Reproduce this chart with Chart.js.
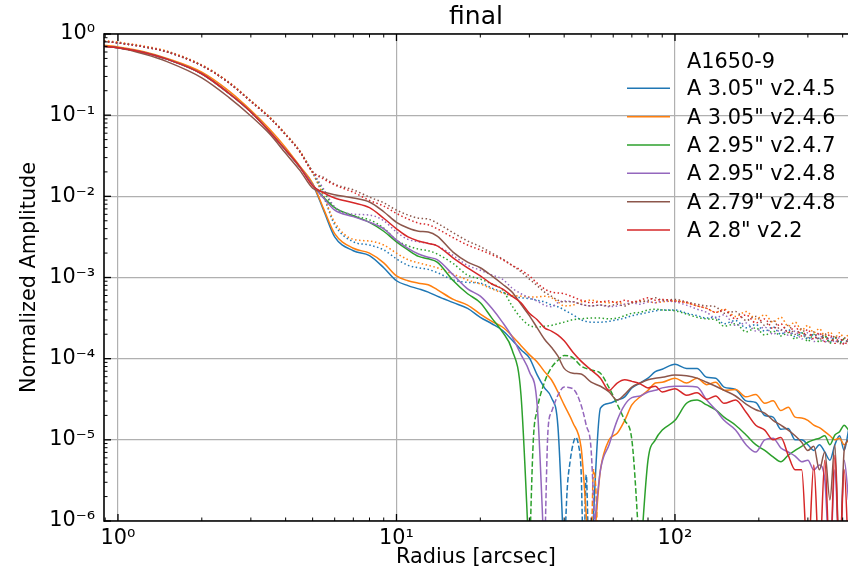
<!DOCTYPE html>
<html>
<head>
<meta charset="utf-8">
<script src="https://cdn.jsdelivr.net/npm/chart.js@4.4.1/dist/chart.umd.min.js"></script>
<style>
  html, body { margin: 0; padding: 0; background: #fff; }
</style>
</head>
<body>
<canvas id="c" width="848" height="573"></canvas>
<script>
// radius [arcsec] shared by the solid and dotted profiles
const radii = [0.89, 1, 1.25, 1.5, 2, 2.5, 3, 3.5, 4, 4.5,
  5, 5.5, 6, 7, 8, 9, 10, 11, 12, 13,
  14, 16, 18, 20, 22, 24, 26, 28, 30, 32,
  34, 36, 38, 40, 43, 46, 50, 54, 58, 62,
  66, 70, 75, 80, 85, 90, 100, 110, 120, 130,
  140, 150, 165, 180, 195, 210, 225, 240, 255, 270,
  285, 300, 315, 330, 345, 360, 375, 390, 405, 420];

// values below are log10 of the normalized amplitude
// (-6.5 = the curve drops out below the axis, null = no solid line there)
const blueSolid = [-0.15, -0.17, -0.23, -0.31, -0.49, -0.73, -0.96, -1.20, -1.43, -1.64,
  -1.85, -2.19, -2.50, -2.67, -2.73, -2.88, -3.04, -3.10, -3.14, -3.18,
  -3.23, -3.31, -3.38, -3.49, -3.57, -3.65, -3.77, -3.89, -3.99, -4.20,
  -4.36, -4.48, -4.84, -6.5, null, null, -6.5, -4.61, -4.55, -4.51,
  -4.47, -4.36, -4.30, -4.24, -4.16, -4.13, -4.07, -4.12, -4.12, -4.23,
  -4.24, -4.35, -4.38, -4.52, -4.54, -4.70, -4.72, -4.87, -4.86, -5.00,
  -5.00, -5.06, -5.13, -5.06, -5.15, -5.25, -5.06, -4.95, -5.13, -4.88];
const orangeSolid = [-0.14, -0.16, -0.22, -0.30, -0.47, -0.70, -0.94, -1.17, -1.40, -1.63,
  -1.84, -2.17, -2.46, -2.64, -2.70, -2.82, -2.98, -3.04, -3.07, -3.09,
  -3.15, -3.27, -3.34, -3.45, -3.54, -3.61, -3.72, -3.84, -3.95, -4.04,
  -4.16, -4.26, -4.41, -4.57, -4.79, -5.09, -6.5, -5.37, -5.00, -4.92,
  -4.76, -4.57, -4.47, -4.39, -4.30, -4.29, -4.24, -4.30, -4.24, -4.32,
  -4.29, -4.39, -4.38, -4.47, -4.44, -4.55, -4.52, -4.64, -4.60, -4.72,
  -4.73, -4.76, -4.82, -4.85, -4.90, -4.95, -5.00, -4.98, -5.06, -5.00];
const greenSolid = [-0.15, -0.17, -0.23, -0.31, -0.49, -0.73, -0.96, -1.20, -1.43, -1.64,
  -1.86, -2.02, -2.14, -2.24, -2.32, -2.43, -2.56, -2.66, -2.74, -2.77,
  -2.81, -3.04, -3.20, -3.31, -3.50, -3.67, -3.89, -4.45, -6.5, null,
  null, null, null, null, null, null, null, null, null, null,
  null, null, -6.5, -5.25, -5.00, -4.88, -4.76, -4.55, -4.51, -4.57,
  -4.63, -4.72, -4.82, -4.94, -5.06, -5.13, -5.21, -5.27, -5.19, -5.13,
  -5.08, -5.03, -5.00, -4.98, -4.95, -5.06, -4.94, -4.90, -4.82, -4.88];
const purpleSolid = [-0.15, -0.17, -0.23, -0.31, -0.49, -0.73, -0.96, -1.20, -1.43, -1.64,
  -1.86, -2.03, -2.17, -2.25, -2.32, -2.40, -2.54, -2.64, -2.71, -2.75,
  -2.78, -2.97, -3.14, -3.23, -3.38, -3.55, -3.73, -3.95, -4.16, -4.57,
  -6.5, null, null, null, null, null, -6.5, -5.37, -5.06, -4.76,
  -4.57, -4.48, -4.46, -4.41, -4.39, -4.36, -4.34, -4.34, -4.35, -4.51,
  -4.63, -4.76, -4.88, -5.06, -5.15, -5.00, -4.98, -5.10, -5.15, -5.20,
  -5.27, -5.25, -5.37, -5.31, -5.49, -6.5, -5.37, -6.5, -5.25, -5.74];
const brownSolid = [-0.15, -0.17, -0.25, -0.34, -0.54, -0.78, -1.01, -1.23, -1.47, -1.68,
  -1.90, -1.95, -1.98, -2.02, -2.07, -2.19, -2.32, -2.39, -2.43, -2.44,
  -2.49, -2.69, -2.81, -2.88, -2.98, -3.08, -3.18, -3.33, -3.47, -3.62,
  -3.76, -3.86, -3.97, -4.12, -4.18, -4.19, -4.29, -4.34, -4.41, -4.51,
  -4.44, -4.35, -4.30, -4.26, -4.24, -4.23, -4.20, -4.21, -4.24, -4.29,
  -4.34, -4.39, -4.46, -4.56, -4.63, -4.67, -4.76, -4.82, -4.88, -4.95,
  -5.03, -5.13, -5.08, -5.37, -5.15, -5.74, -5.06, -6.5, -5.13, -5.00];
const redSolid = [-0.15, -0.17, -0.23, -0.31, -0.49, -0.73, -0.96, -1.20, -1.43, -1.64,
  -1.87, -1.96, -2.02, -2.08, -2.14, -2.27, -2.40, -2.50, -2.55, -2.58,
  -2.61, -2.76, -2.88, -2.98, -3.08, -3.14, -3.23, -3.31, -3.44, -3.52,
  -3.62, -3.66, -3.71, -3.78, -3.92, -4.03, -4.14, -4.24, -4.39, -4.30,
  -4.26, -4.28, -4.31, -4.36, -4.34, -4.41, -4.37, -4.45, -4.42, -4.50,
  -4.46, -4.55, -4.51, -4.66, -4.82, -4.88, -5.00, -4.97, -5.19, -5.37,
  -5.37, -6.5, -5.31, -6.5, -5.25, -6.5, -5.19, -6.5, -5.37, -6.5];

const blueDotted = [-0.09, -0.11, -0.16, -0.22, -0.39, -0.60, -0.83, -1.03, -1.24, -1.45,
  -1.71, -2.02, -2.35, -2.56, -2.60, -2.66, -2.77, -2.85, -2.88, -2.90,
  -2.94, -3.03, -3.06, -3.07, -3.13, -3.18, -3.23, -3.25, -3.26, -3.28,
  -3.30, -3.34, -3.36, -3.40, -3.46, -3.52, -3.55, -3.55, -3.54, -3.52,
  -3.50, -3.47, -3.45, -3.43, -3.41, -3.40, -3.40, -3.44, -3.47, -3.50,
  -3.49, -3.57, -3.53, -3.62, -3.58, -3.66, -3.61, -3.70, -3.64, -3.73,
  -3.68, -3.76, -3.70, -3.75, -3.72, -3.80, -3.73, -3.80, -3.75, -3.81];
const orangeDotted = [-0.08, -0.10, -0.15, -0.21, -0.38, -0.59, -0.82, -1.02, -1.23, -1.44,
  -1.71, -2.01, -2.32, -2.53, -2.55, -2.60, -2.70, -2.78, -2.82, -2.85,
  -2.88, -2.96, -3.03, -3.08, -3.14, -3.19, -3.22, -3.23, -3.24, -3.24,
  -3.23, -3.25, -3.30, -3.35, -3.34, -3.30, -3.28, -3.30, -3.31, -3.30,
  -3.33, -3.31, -3.29, -3.30, -3.31, -3.30, -3.29, -3.31, -3.35, -3.38,
  -3.43, -3.39, -3.48, -3.42, -3.51, -3.46, -3.55, -3.49, -3.60, -3.55,
  -3.65, -3.59, -3.68, -3.63, -3.72, -3.67, -3.74, -3.68, -3.75, -3.70];
const greenDotted = [-0.09, -0.11, -0.16, -0.22, -0.39, -0.60, -0.83, -1.03, -1.24, -1.45,
  -1.70, -1.95, -2.14, -2.24, -2.29, -2.39, -2.54, -2.61, -2.65, -2.67,
  -2.71, -2.83, -2.97, -3.02, -3.08, -3.15, -3.35, -3.50, -3.59, -3.61,
  -3.60, -3.59, -3.57, -3.55, -3.52, -3.51, -3.50, -3.50, -3.51, -3.50,
  -3.47, -3.44, -3.43, -3.40, -3.39, -3.40, -3.41, -3.45, -3.49, -3.51,
  -3.52, -3.60, -3.57, -3.67, -3.62, -3.71, -3.66, -3.72, -3.68, -3.76,
  -3.68, -3.79, -3.70, -3.80, -3.72, -3.81, -3.74, -3.81, -3.76, -3.82];
const purpleDotted = [-0.09, -0.11, -0.16, -0.22, -0.39, -0.60, -0.83, -1.03, -1.24, -1.45,
  -1.70, -1.92, -2.13, -2.22, -2.23, -2.30, -2.44, -2.53, -2.56, -2.58,
  -2.61, -2.73, -2.85, -2.91, -2.97, -3.02, -3.13, -3.20, -3.25, -3.29,
  -3.34, -3.36, -3.31, -3.29, -3.30, -3.33, -3.35, -3.34, -3.36, -3.35,
  -3.33, -3.31, -3.33, -3.30, -3.31, -3.29, -3.30, -3.34, -3.39, -3.43,
  -3.50, -3.46, -3.59, -3.56, -3.66, -3.61, -3.70, -3.64, -3.71, -3.66,
  -3.76, -3.68, -3.79, -3.70, -3.80, -3.73, -3.80, -3.74, -3.81, -3.76];
const brownDotted = [-0.09, -0.11, -0.16, -0.22, -0.39, -0.60, -0.83, -1.03, -1.24, -1.45,
  -1.70, -1.77, -1.85, -1.92, -2.01, -2.08, -2.17, -2.23, -2.27, -2.28,
  -2.33, -2.45, -2.55, -2.62, -2.70, -2.77, -2.85, -2.93, -3.02, -3.10,
  -3.18, -3.23, -3.28, -3.30, -3.30, -3.33, -3.35, -3.34, -3.35, -3.33,
  -3.35, -3.31, -3.30, -3.28, -3.25, -3.28, -3.27, -3.30, -3.33, -3.35,
  -3.36, -3.44, -3.42, -3.53, -3.48, -3.59, -3.53, -3.65, -3.59, -3.70,
  -3.63, -3.74, -3.67, -3.77, -3.69, -3.80, -3.72, -3.82, -3.74, -3.83];
const redDotted = [-0.09, -0.11, -0.16, -0.22, -0.39, -0.60, -0.83, -1.03, -1.24, -1.45,
  -1.70, -1.79, -1.86, -1.95, -2.05, -2.12, -2.21, -2.28, -2.33, -2.35,
  -2.40, -2.51, -2.60, -2.66, -2.72, -2.78, -2.85, -2.91, -2.98, -3.07,
  -3.14, -3.18, -3.19, -3.20, -3.24, -3.28, -3.31, -3.30, -3.29, -3.31,
  -3.28, -3.30, -3.28, -3.25, -3.28, -3.27, -3.29, -3.31, -3.35, -3.38,
  -3.43, -3.40, -3.51, -3.46, -3.56, -3.51, -3.63, -3.57, -3.68, -3.60,
  -3.72, -3.64, -3.76, -3.68, -3.79, -3.70, -3.81, -3.73, -3.83, -3.75];

// dashed pieces (where the profile goes negative, plotted as |value|)
const blueDashR = [40, 41, 42, 43, 44, 45, 46, 47, 48, 49];
const blueDash = [-6.5, -5.62, -5.27, -5.06, -4.97, -5.06, -5.37, -6.5, -5.43, -6.5];
const orangeDashR = [50, 51, 52, 53];
const orangeDash = [-6.5, -5.37, -5.62, -6.5];
const greenDashR = [30, 31, 32, 34, 36, 38, 40, 43, 46, 50, 54, 58, 62, 66, 70, 75];
const greenDash = [-6.5, -5.00, -4.63, -4.29, -4.11, -4.02, -3.96, -3.99, -4.09, -4.14, -4.18, -4.36, -4.56, -4.76, -5.00, -6.5];
const purpleDashR = [34, 35, 36, 38, 40, 43, 46, 48, 50, 52];
const purpleDash = [-6.5, -4.88, -4.66, -4.45, -4.35, -4.37, -4.57, -4.82, -5.13, -6.5];

const yTickValues = [1e-6, 1e-5, 1e-4, 1e-3, 1e-2, 1e-1, 1];
const yTickLabels = ['10⁻⁶', '10⁻⁵', '10⁻⁴', '10⁻³', '10⁻²', '10⁻¹', '10⁰'];
const xTickValues = [1, 10, 100];
const xTickLabels = ['10⁰', '10¹', '10²'];

const legendTitle = 'A1650-9';
const seriesNames = ['A 3.05" v2.4.5', 'A 3.05" v2.4.6', 'A 2.95" v2.4.7', 'A 2.95" v2.4.8', 'A 2.79" v2.4.8', 'A 2.8" v2.2'];

const FONT = 'DejaVu Sans';
const colors = ['#1f77b4', '#ff7f0e', '#2ca02c', '#9467bd', '#8c564b', '#d62728'];
const solids = [blueSolid, orangeSolid, greenSolid, purpleSolid, brownSolid, redSolid];
const dots = [blueDotted, orangeDotted, greenDotted, purpleDotted, brownDotted, redDotted];
const dashes = [[blueDashR, blueDash], [orangeDashR, orangeDash], [greenDashR, greenDash], [purpleDashR, purpleDash], null, null];

function toPoints(rs, logAmp) {
  return rs.map((r, i) => ({ x: r, y: logAmp[i] === null ? null : Math.pow(10, logAmp[i]) }));
}

const datasets = [];
colors.forEach((c, i) => {
  datasets.push({ label: seriesNames[i], data: toPoints(radii, solids[i]), borderColor: c });
  datasets.push({ label: seriesNames[i] + ' (dotted)', data: toPoints(radii, dots[i]), borderColor: c, borderDash: [1.5, 2.5] });
  if (dashes[i]) {
    datasets.push({ label: seriesNames[i] + ' (neg)', data: toPoints(dashes[i][0], dashes[i][1]), borderColor: c, borderDash: [5.5, 2.4] });
  }
});
datasets.forEach((d, k) => {
  d.order = datasets.length - k; // later series on top, like matplotlib
  d.borderWidth = 1.5;
  d.pointRadius = 0;
  d.cubicInterpolationMode = 'monotone';
  d.fill = false;
  d.spanGaps = false;
  d.borderJoinStyle = 'round';
});

// spines and inward ticks, matplotlib style
const frame = {
  id: 'frame',
  afterDatasetsDraw(chart) {
    const { ctx, chartArea: a, scales: { x, y } } = chart;
    ctx.save();
    ctx.strokeStyle = '#000';
    const seg = (x0, y0, x1, y1, w) => {
      ctx.lineWidth = w;
      ctx.beginPath(); ctx.moveTo(x0, y0); ctx.lineTo(x1, y1); ctx.stroke();
    };
    for (let e = -7; e <= 3; e++) {
      for (let m = 1; m <= 9; m++) {
        const v = m * Math.pow(10, e);
        const len = m === 1 ? 7 : 3.5;
        const w = m === 1 ? 1.3 : 1;
        if (v >= y.min && v <= y.max) {
          const py = y.getPixelForValue(v);
          seg(a.left, py, a.left + len, py, w);
        }
        if (v >= x.min && v <= x.max) {
          const px = x.getPixelForValue(v);
          seg(px, a.top, px, a.top + len, w);
          seg(px, a.bottom, px, a.bottom - len, w);
        }
      }
    }
    seg(a.left, a.top, a.right, a.top, 1.6);
    seg(a.left, a.bottom, a.right, a.bottom, 1.6);
    seg(a.left, a.top - 0.8, a.left, a.bottom + 0.8, 1.6);
    ctx.restore();
  }
};

// legend without frame, title centred over the entries
const mplLegend = {
  id: 'mplLegend',
  afterDraw(chart) {
    const ctx = chart.ctx;
    ctx.save();
    ctx.font = '20.8px "' + FONT + '"';
    ctx.fillStyle = '#000';
    ctx.textBaseline = 'alphabetic';
    ctx.textAlign = 'center';
    ctx.fillText(legendTitle, 731, 68.3);
    ctx.textAlign = 'left';
    seriesNames.forEach((name, i) => {
      const ly = 88.3 + i * 28.35;
      ctx.strokeStyle = colors[i];
      ctx.lineWidth = 1.5;
      ctx.beginPath(); ctx.moveTo(627, ly); ctx.lineTo(670, ly); ctx.stroke();
      ctx.fillText(name, 687, ly + 7);
    });
    ctx.restore();
  }
};

Chart.defaults.font.family = FONT;
Chart.defaults.color = '#000';

new Chart(document.getElementById('c'), {
  type: 'line',
  data: { datasets },
  options: {
    responsive: false,
    animation: false,
    devicePixelRatio: 1,
    layout: { padding: 0 },
    plugins: {
      legend: { display: false },
      tooltip: { enabled: false },
      title: {
        display: true,
        text: 'final',
        fullSize: false,
        color: '#000',
        font: { family: FONT, size: 25, weight: 'normal' },
        padding: { top: 2, bottom: 2 }
      }
    },
    scales: {
      x: {
        type: 'logarithmic',
        min: 0.891,
        max: 418,
        afterBuildTicks: s => { s.ticks = xTickValues.map(v => ({ value: v })); },
        afterFit: s => { s.height = 52; },
        grid: { color: '#b0b0b0', lineWidth: 1.2, drawTicks: false },
        border: { display: false },
        ticks: {
          autoSkip: false,
          maxRotation: 0,
          padding: 5,
          font: { size: 20.8 },
          callback: v => xTickLabels[xTickValues.indexOf(v)]
        },
        title: { display: true, text: 'Radius [arcsec]', font: { size: 20.8 }, padding: { top: 0, bottom: 3 } }
      },
      y: {
        type: 'logarithmic',
        min: 1e-6,
        max: 1,
        afterBuildTicks: s => { s.ticks = yTickValues.map(v => ({ value: v })); },
        afterFit: s => { s.width = 104; },
        grid: { color: '#b0b0b0', lineWidth: 1.2, drawTicks: false },
        border: { display: false },
        ticks: {
          autoSkip: false,
          padding: 9,
          font: { size: 20.8 },
          callback: v => yTickLabels[yTickValues.indexOf(v)]
        },
        title: { display: true, text: 'Normalized Amplitude', font: { size: 20.8 }, padding: { top: 17, bottom: 0 } }
      }
    }
  },
  plugins: [frame, mplLegend]
});
</script>
</body>
</html>
